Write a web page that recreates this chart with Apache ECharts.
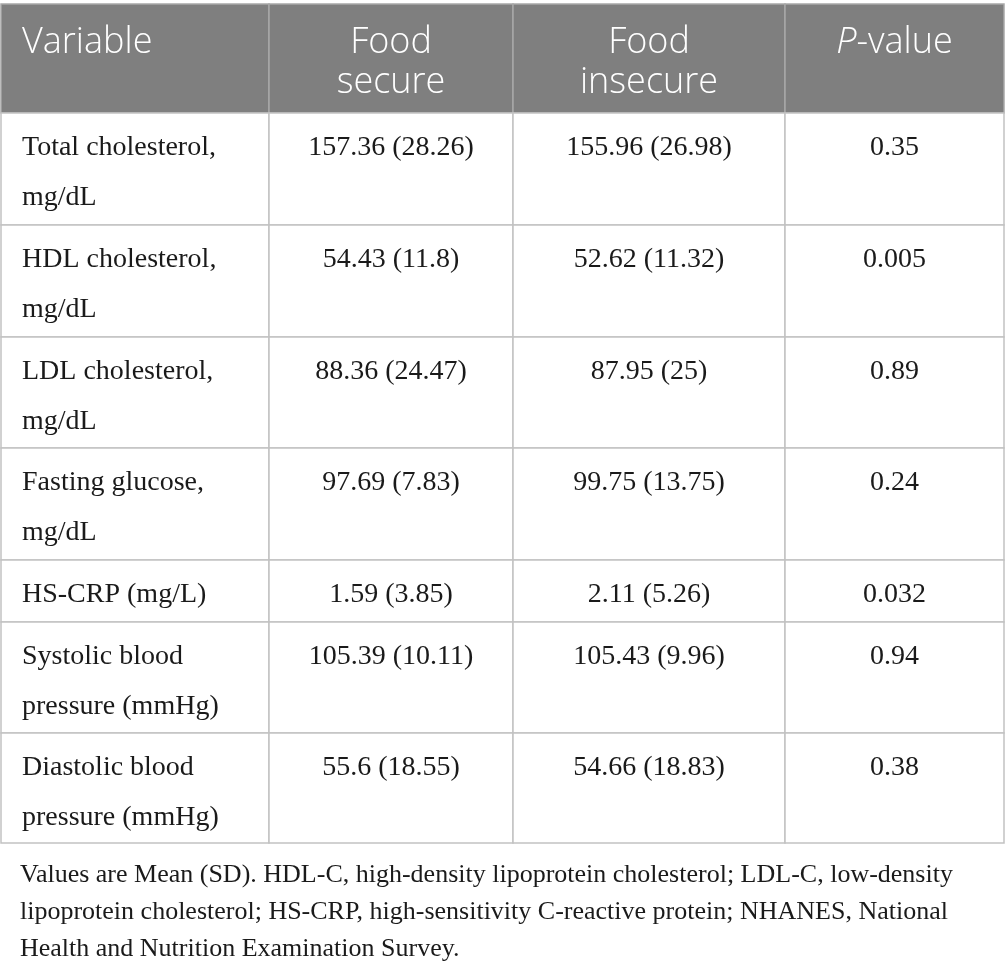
<!DOCTYPE html>
<html>
<head>
<meta charset="utf-8">
<script src="https://cdn.jsdelivr.net/npm/echarts@6/dist/echarts.min.js"></script>
<style>
html,body{margin:0;padding:0;background:#fff;}
#chart{width:1005px;height:971px;}
</style>
</head>
<body>
<div id="chart"></div>
<script>
// ---- data ----
const columns = ['Variable', 'Food\nsecure', 'Food\ninsecure', '{i|P}-value'];
const variables = [
  'Total cholesterol,\nmg/dL',
  'HDL cholesterol,\nmg/dL',
  'LDL cholesterol,\nmg/dL',
  'Fasting glucose,\nmg/dL',
  'HS-CRP (mg/L)',
  'Systolic blood\npressure (mmHg)',
  'Diastolic blood\npressure (mmHg)'
];
const secureMean = [157.36, 54.43, 88.36, 97.69, 1.59, 105.39, 55.6];
const secureSD = [28.26, 11.8, 24.47, 7.83, 3.85, 10.11, 18.55];
const insecureMean = [155.96, 52.62, 87.95, 99.75, 2.11, 105.43, 54.66];
const insecureSD = [26.98, 11.32, 25, 13.75, 5.26, 9.96, 18.83];
const pValues = ['0.35', '0.005', '0.89', '0.24', '0.032', '0.94', '0.38'];
const footnote = 'Values are Mean (SD). HDL-C, high-density lipoprotein cholesterol; LDL-C, low-density\nlipoprotein cholesterol; HS-CRP, high-sensitivity C-reactive protein; NHANES, National\nHealth and Nutrition Examination Survey.';

// ---- layout (table geometry in page units) ----
const colEdges = [1, 269, 513, 785, 1004];
const rowEdges = [4, 113, 225, 337, 448, 560, 622, 733, 843];

function cellText(c, r) {
  if (r === 0) return columns[c];
  const i = r - 1;
  if (c === 0) return variables[i];
  if (c === 1) return secureMean[i] + ' (' + secureSD[i] + ')';
  if (c === 2) return insecureMean[i] + ' (' + insecureSD[i] + ')';
  return pValues[i];
}

const cells = [];
for (let r = 0; r <= variables.length; r++) {
  for (let c = 0; c < columns.length; c++) cells.push([c, r]);
}

const chart = echarts.init(document.getElementById('chart'), null, {renderer: 'canvas'});
chart.setOption({
  animation: false,
  backgroundColor: '#ffffff',
  grid: {left: 0, right: 0, top: 0, bottom: 0},
  xAxis: {type: 'value', min: 0, max: 1005, show: false},
  yAxis: {type: 'value', min: 0, max: 971, inverse: true, show: false},
  series: [{
    type: 'custom',
    coordinateSystem: 'cartesian2d',
    data: cells,
    renderItem: function (params, api) {
      const c = api.value(0), r = api.value(1);
      const p0 = api.coord([colEdges[c], rowEdges[r]]);
      const p1 = api.coord([colEdges[c + 1], rowEdges[r + 1]]);
      const header = r === 0;
      const text = cellText(c, r);
      const tx = c === 0 ? p0[0] + 21 : (p0[0] + p1[0]) / 2;
      return {
        type: 'group',
        children: [{
          type: 'rect',
          shape: {x: p0[0], y: p0[1], width: p1[0] - p0[0], height: p1[1] - p0[1]},
          style: {
            fill: header ? '#7f7f7f' : '#ffffff',
            stroke: header ? '#a8a8a8' : '#c2c2c2',
            lineWidth: 1.5
          }
        }, {
          type: 'text',
          z2: 10,
          style: header ? {
            text: text,
            x: tx,
            y: p0[1] + 19,
            align: c === 0 ? 'left' : 'center',
            verticalAlign: 'top',
            fill: '#ffffff',
            fontFamily: '"Open Sans", "Noto Sans", sans-serif',
            fontSize: 36,
            fontWeight: 300,
            lineHeight: 40,
            rich: {
              i: {fontStyle: 'italic', fontFamily: '"Open Sans", "Noto Sans", sans-serif', fontSize: 36, fontWeight: 300, fill: '#ffffff', lineHeight: 40}
            }
          } : {
            text: text,
            x: tx,
            y: p0[1] + 10,
            align: c === 0 ? 'left' : 'center',
            verticalAlign: 'top',
            fill: '#1a1a1a',
            fontFamily: '"Liberation Serif", "DejaVu Serif", serif',
            fontSize: 28,
            lineHeight: 50
          }
        }]
      };
    }
  }],
  graphic: [{
    type: 'text',
    left: 20,
    top: 857,
    style: {
      text: footnote,
      fill: '#1a1a1a',
      fontFamily: '"Liberation Serif", "DejaVu Serif", serif',
      fontSize: 26,
      lineHeight: 37
    }
  }]
});
</script>
</body>
</html>
